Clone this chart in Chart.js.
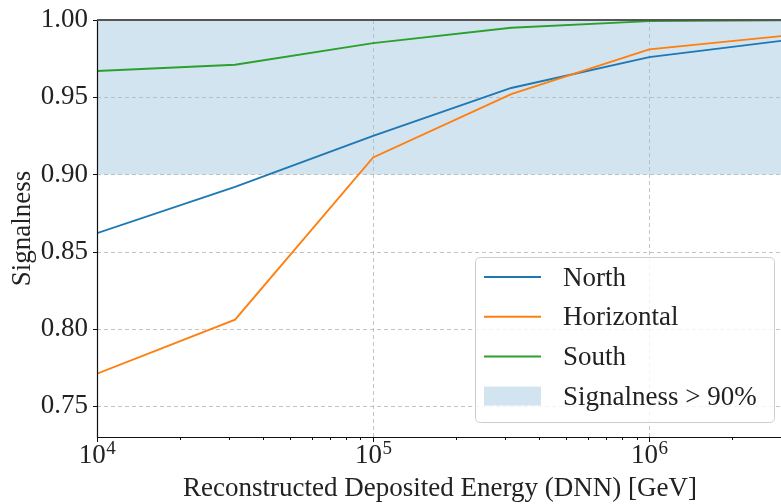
<!DOCTYPE html>
<html>
<head>
<meta charset="utf-8">
<script src="https://cdn.jsdelivr.net/npm/chart.js@4.4.1/dist/chart.umd.min.js"></script>
<style>
  html, body { margin: 0; padding: 0; background: #fff; overflow: hidden; }
  #wrap { width: 781px; height: 504px; }
</style>
</head>
<body>
<div id="wrap"><canvas id="c" width="781" height="504"></canvas></div>
<script>
// Reconstructed deposited energy bins [GeV]
const energies = [1e4, 31623, 1e5, 316228, 1e6, 3162278];

// Signalness per zenith region
const north      = [0.862, 0.892, 0.925, 0.956, 0.976, 0.987];
const horizontal = [0.771, 0.806, 0.911, 0.952, 0.981, 0.990];
const south      = [0.967, 0.971, 0.985, 0.995, 0.9993, 0.9998];

const seriesNames = ['North', 'Horizontal', 'South'];
const bandLabel = 'Signalness > 90%';
const bandLow = 0.90;
const bandHigh = 1.00;

const xTitle = 'Reconstructed Deposited Energy (DNN) [GeV]';
const yTitle = 'Signalness';

const FONT = '"Liberation Serif", "DejaVu Serif", serif';
const INK = '#222';

const toPoints = (ys) => energies.map((x, i) => ({ x, y: ys[i] }));

function roundRect(ctx, x, y, w, h, r) {
  ctx.beginPath();
  ctx.moveTo(x + r, y);
  ctx.lineTo(x + w - r, y);
  ctx.quadraticCurveTo(x + w, y, x + w, y + r);
  ctx.lineTo(x + w, y + h - r);
  ctx.quadraticCurveTo(x + w, y + h, x + w - r, y + h);
  ctx.lineTo(x + r, y + h);
  ctx.quadraticCurveTo(x, y + h, x, y + h - r);
  ctx.lineTo(x, y + r);
  ctx.quadraticCurveTo(x, y, x + r, y);
  ctx.closePath();
}

// Grid, spines, tick marks, log tick labels, titles and legend
const decor = {
  id: 'decor',
  beforeDatasetsDraw(chart) {
    const { ctx, chartArea: a, scales: { x, y } } = chart;
    ctx.save();
    ctx.strokeStyle = 'rgba(176,176,176,0.75)';
    ctx.lineWidth = 1;
    ctx.setLineDash([4, 3]);
    y.ticks.forEach(t => {
      if (t.value >= y.max - 1e-9) return;
      const py = Math.round(y.getPixelForValue(t.value)) + 0.5;
      ctx.beginPath(); ctx.moveTo(a.left, py); ctx.lineTo(a.right, py); ctx.stroke();
    });
    for (let e = Math.ceil(Math.log10(x.min)); Math.pow(10, e) <= x.max; e++) {
      const v = Math.pow(10, e);
      if (v <= x.min) continue;
      const px = Math.round(x.getPixelForValue(v)) + 0.5;
      ctx.beginPath(); ctx.moveTo(px, a.top); ctx.lineTo(px, a.bottom); ctx.stroke();
    }
    ctx.restore();
  },
  afterDatasetsDraw(chart) {
    const { ctx, chartArea: a, scales: { x, y } } = chart;
    ctx.save();
    ctx.setLineDash([]);

    // spines
    ctx.strokeStyle = '#111';
    ctx.lineWidth = 1.2;
    ctx.beginPath();
    ctx.moveTo(a.left + 0.5, a.top); ctx.lineTo(a.left + 0.5, a.bottom + 0.5);
    ctx.lineTo(a.right, a.bottom + 0.5);
    ctx.stroke();
    ctx.strokeStyle = '#555';
    ctx.lineWidth = 1.8;
    ctx.beginPath(); ctx.moveTo(a.left, a.top); ctx.lineTo(a.right, a.top); ctx.stroke();

    // y tick marks
    ctx.strokeStyle = '#111';
    ctx.lineWidth = 1;
    y.ticks.forEach(t => {
      const py = Math.round(y.getPixelForValue(t.value)) + 0.5;
      ctx.beginPath(); ctx.moveTo(a.left - 4, py); ctx.lineTo(a.left, py); ctx.stroke();
    });

    // x tick marks (major at decades, minor at 2..9)
    const eMin = Math.floor(Math.log10(x.min));
    const eMax = Math.floor(Math.log10(x.max));
    for (let e = eMin; e <= eMax; e++) {
      for (let k = 1; k <= 9; k++) {
        const v = k * Math.pow(10, e);
        if (v < x.min - 1e-6 || v > x.max + 1e-6) continue;
        const px = Math.round(x.getPixelForValue(v)) + 0.5;
        const len = k === 1 ? 5 : 3;
        ctx.beginPath(); ctx.moveTo(px, a.bottom); ctx.lineTo(px, a.bottom + len); ctx.stroke();
      }
    }

    // x tick labels 10^n
    ctx.fillStyle = INK;
    ctx.textAlign = 'left';
    ctx.textBaseline = 'alphabetic';
    for (let e = Math.ceil(Math.log10(x.min)); Math.pow(10, e) <= x.max; e++) {
      const px = x.getPixelForValue(Math.pow(10, e));
      ctx.font = '27px ' + FONT;
      const wBase = ctx.measureText('10').width;
      ctx.font = '19px ' + FONT;
      const wExp = ctx.measureText(String(e)).width;
      const x0 = px - (wBase + wExp) / 2;
      ctx.font = '27px ' + FONT;
      ctx.fillText('10', x0, a.bottom + 26);
      ctx.font = '19px ' + FONT;
      ctx.fillText(String(e), x0 + wBase + 0.5, a.bottom + 17);
    }

    // axis titles
    ctx.font = '27px ' + FONT;
    ctx.textAlign = 'center';
    ctx.fillText(xTitle, (a.left + a.right) / 2 + 1, a.bottom + 59);
    ctx.save();
    ctx.translate(30, (a.top + a.bottom) / 2);
    ctx.rotate(-Math.PI / 2);
    ctx.fillText(yTitle, 0, 0);
    ctx.restore();

    // legend
    const lw = 299, lh = 165;
    const lx = a.right - 7 - lw, ly = a.bottom - 15 - lh;
    roundRect(ctx, lx + 0.5, ly + 0.5, lw, lh, 5);
    ctx.fillStyle = 'rgba(255,255,255,0.8)';
    ctx.fill();
    ctx.strokeStyle = 'rgba(204,204,204,1)';
    ctx.lineWidth = 1;
    ctx.stroke();

    ctx.font = '27px ' + FONT;
    ctx.textAlign = 'left';
    ctx.textBaseline = 'alphabetic';
    chart.data.datasets.forEach((ds, i) => {
      const cy = ly + 20 + i * 39.7;
      if (ds.fill) {
        ctx.fillStyle = ds.backgroundColor;
        ctx.fillRect(lx + 9, cy - 9.5, 57, 19);
      } else {
        ctx.strokeStyle = ds.borderColor;
        ctx.lineWidth = 2;
        ctx.beginPath(); ctx.moveTo(lx + 9, cy); ctx.lineTo(lx + 66, cy); ctx.stroke();
      }
      ctx.fillStyle = INK;
      ctx.fillText(ds.label, lx + 88, cy + 8.5);
    });
    ctx.restore();
  }
};

const colors = ['#1f77b4', '#ff7f0e', '#2ca02c'];
const series = [north, horizontal, south];

const datasets = series.map((vals, i) => ({
  label: seriesNames[i],
  data: toPoints(vals),
  borderColor: colors[i],
  backgroundColor: colors[i],
  borderWidth: 1.9,
  pointRadius: 0,
  tension: 0,
  fill: false,
  order: 3 - i
}));

datasets.push({
  label: bandLabel,
  data: [{ x: energies[0], y: bandHigh }, { x: energies[energies.length - 1], y: bandHigh }],
  borderColor: 'rgba(0,0,0,0)',
  backgroundColor: 'rgba(31,119,180,0.2)',
  borderWidth: 0,
  pointRadius: 0,
  fill: { value: bandLow },
  order: 4
});

new Chart(document.getElementById('c'), {
  type: 'line',
  data: { datasets },
  options: {
    responsive: false,
    animation: false,
    devicePixelRatio: 1,
    layout: { padding: { top: 20, left: 0, right: 0, bottom: 0 } },
    plugins: {
      legend: { display: false },
      tooltip: { enabled: false },
      filler: { drawTime: 'beforeDatasetsDraw' }
    },
    scales: {
      x: {
        type: 'logarithmic',
        min: 1e4,
        max: 3e6,
        ticks: { display: false, autoSkip: false },
        grid: { display: false, drawTicks: false },
        border: { display: false },
        afterFit(s) { s.height = 67; s.paddingLeft = 0; s.paddingRight = 0; }
      },
      y: {
        min: 0.73,
        max: 1.0,
        ticks: {
          stepSize: 0.05,
          includeBounds: false,
          padding: 9,
          color: INK,
          font: { family: FONT, size: 27 },
          callback: (v) => Number(v).toFixed(2)
        },
        grid: { display: false, drawTicks: false },
        border: { display: false },
        afterFit(s) { s.width = 97; s.paddingTop = 0; s.paddingBottom = 0; }
      }
    }
  },
  plugins: [decor]
});
</script>
</body>
</html>
